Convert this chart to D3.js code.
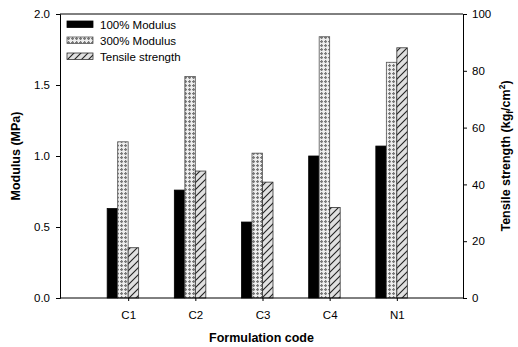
<!DOCTYPE html>
<html>
<head>
<meta charset="utf-8">
<script src="https://cdn.jsdelivr.net/npm/d3@7"></script>
<style>
  html, body { margin: 0; padding: 0; background: #fff; }
  svg { display: block; font-family: "Liberation Sans", Arial, sans-serif; }
</style>
</head>
<body>
<svg id="chart" width="518" height="347"></svg>
<script>
// Formulation codes and measured properties
const categories = ["C1", "C2", "C3", "C4", "N1"];
const modulus100 = [0.63, 0.76, 0.535, 1.0, 1.07];   // MPa
const modulus300 = [1.10, 1.56, 1.02, 1.84, 1.66];   // MPa
const tensile    = [17.7, 44.7, 40.8, 31.9, 88.1];   // kgf/cm2
const leftTicks  = [0.0, 0.5, 1.0, 1.5, 2.0];
const rightTicks = [0, 20, 40, 60, 80, 100];

const svg = d3.select("#chart");
const m = { left: 60, right: 463, top: 14, bottom: 298 };

// categories sit at positions 1..5 on a 0..6 axis
const x = d3.scaleLinear().domain([0, categories.length + 1]).range([m.left + 1, m.right + 1]);
const yL = d3.scaleLinear().domain([0, 2]).range([m.bottom, m.top]);
const yR = d3.scaleLinear().domain([0, 100]).range([m.bottom, m.top]);
const barW = 10.5;

// fill patterns
const defs = svg.append("defs");
const dots = defs.append("pattern").attr("id", "dots")
  .attr("patternUnits", "userSpaceOnUse").attr("width", 4).attr("height", 4);
dots.append("rect").attr("width", 4).attr("height", 4).attr("fill", "#eeeeee");
dots.append("rect").attr("x", 1).attr("y", 0).attr("width", 1.2).attr("height", 3).attr("fill", "#7a7a7a");
dots.append("rect").attr("x", 0).attr("y", 1).attr("width", 3).attr("height", 1.2).attr("fill", "#7a7a7a");

const hatch = defs.append("pattern").attr("id", "hatch")
  .attr("patternUnits", "userSpaceOnUse").attr("width", 7).attr("height", 7);
hatch.append("rect").attr("width", 7).attr("height", 7).attr("fill", "#e0e0e0");
hatch.append("path").attr("d", "M-1,8 L8,-1 M-2,2 L2,-2 M5,9 L9,5")
  .attr("stroke", "#222").attr("stroke-width", 1.1);

const series = [
  { name: "100% Modulus", values: modulus100, scale: yL, fill: "#000", stroke: "#000" },
  { name: "300% Modulus", values: modulus300, scale: yL, fill: "url(#dots)", stroke: "#555" },
  { name: "Tensile strength", values: tensile, scale: yR, fill: "url(#hatch)", stroke: "#333" }
];

// bars
series.forEach((s, si) => {
  svg.append("g").selectAll("rect").data(s.values).join("rect")
    .attr("x", (d, i) => x(i + 1) + (si - 2) * barW)
    .attr("y", d => s.scale(d))
    .attr("width", barW)
    .attr("height", d => m.bottom - s.scale(d))
    .attr("fill", s.fill)
    .attr("stroke", s.stroke)
    .attr("stroke-width", 0.8);
});

// frame
svg.append("line").attr("x1", m.left).attr("x2", m.right).attr("y1", m.top).attr("y2", m.top)
  .attr("stroke", "#000").attr("stroke-width", 1);

// axes
const axL = svg.append("g").attr("transform", `translate(${m.left},0)`)
  .call(d3.axisLeft(yL).tickValues(leftTicks).tickFormat(d3.format(".1f")).tickSize(4).tickPadding(6));
const axR = svg.append("g").attr("transform", `translate(${m.right},0)`)
  .call(d3.axisRight(yR).tickValues(rightTicks).tickSize(4).tickPadding(5));
const axB = svg.append("g").attr("transform", `translate(0,${m.bottom})`)
  .call(d3.axisBottom(x).tickValues(d3.range(1, categories.length + 1))
    .tickFormat((d) => categories[d - 1]).tickSize(3).tickPadding(10));
[axL, axR, axB].forEach(a => {
  a.select(".domain").attr("stroke", "#000").attr("stroke-width", 1);
  a.selectAll(".tick line").attr("stroke", "#000");
  a.selectAll("text").attr("font-size", 11.5).attr("fill", "#000")
    .attr("font-family", "'Liberation Sans', Arial, sans-serif");
});
axB.select(".domain").attr("d", `M${m.left},0H${m.right}`);

// axis titles
svg.append("text").attr("transform", `translate(20,${(m.top + m.bottom) / 2}) rotate(-90)`)
  .attr("text-anchor", "middle").attr("font-size", 12.5).attr("font-weight", "bold")
  .text("Modulus (MPa)");

const rt = svg.append("text").attr("transform", `translate(510,${(m.top + m.bottom) / 2}) rotate(-90)`)
  .attr("text-anchor", "middle").attr("font-size", 12.5).attr("font-weight", "bold");
rt.append("tspan").text("Tensile strength (kg");
rt.append("tspan").attr("font-size", 8.5).attr("dy", 3).text("f");
rt.append("tspan").attr("dy", -3).text("/cm");
rt.append("tspan").attr("font-size", 8.5).attr("dy", -5).text("2");
rt.append("tspan").attr("dy", 5).text(")");

svg.append("text").attr("x", (m.left + m.right) / 2).attr("y", 342)
  .attr("text-anchor", "middle").attr("font-size", 12.5).attr("font-weight", "bold")
  .text("Formulation code");

// legend
const lg = svg.append("g").attr("transform", "translate(67,21)");
series.forEach((s, i) => {
  const row = lg.append("g").attr("transform", `translate(0,${i * 16})`);
  row.append("rect").attr("width", 26).attr("height", 6.5)
    .attr("fill", s.fill).attr("stroke", s.stroke).attr("stroke-width", 0.8);
  row.append("text").attr("x", 33).attr("y", 7.5).attr("font-size", 11.5).text(s.name);
});
</script>
</body>
</html>
